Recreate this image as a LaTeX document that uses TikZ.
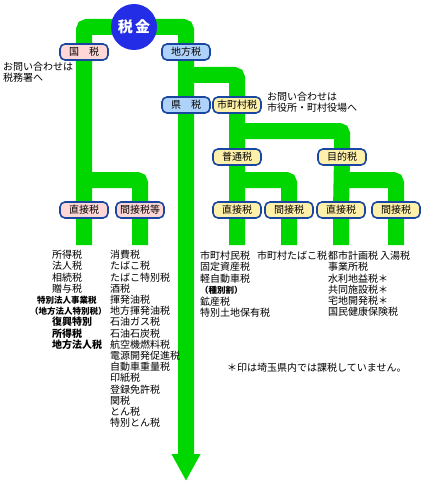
\documentclass[tikz,border=0pt]{standalone}
\usepackage{fontspec}
\setmainfont{Noto Sans CJK JP}
\usetikzlibrary{arrows.meta,backgrounds}
\definecolor{pipegreen}{RGB}{0,215,0}
\definecolor{boxblue}{RGB}{25,70,160}
\definecolor{kokupink}{RGB}{255,215,215}
\definecolor{chihoblue}{RGB}{175,210,250}
\definecolor{shiyellow}{RGB}{255,240,170}
\definecolor{zeikinblue}{RGB}{35,45,230}

\begin{document}
\begin{tikzpicture}[x=1pt,y=-1pt,font=\fontsize{10}{11.2}\selectfont,
  pipe/.style={draw=pipegreen,line width=16pt,rounded corners=3pt},
  taxbox/.style={draw=boxblue,line width=1.6pt,rounded corners=5pt,minimum width=48pt,minimum height=16pt,inner sep=1pt},
  kokubox/.style={taxbox,fill=kokupink},
  chihobox/.style={taxbox,fill=chihoblue},
  shibox/.style={taxbox,fill=shiyellow},
  taxlist/.style={anchor=north west,align=left,inner sep=0pt}]
\useasboundingbox (0,0) rectangle (424,484);

% boxes
\node[circle,fill=zeikinblue,minimum size=46pt,inner sep=0pt,text=white,font=\bfseries\fontsize{15}{15}\selectfont] (zeikin) at (134,27) {税\,金};
\node[kokubox] (kokuzei) at (84,52) {国　税};
\node[chihobox] (chihozei) at (186,52) {地方税};
\node[chihobox] (kenzei) at (186,105) {県　税};
\node[shibox] (shichoson) at (237,105) {市町村税};
\node[shibox] (futsu) at (237,157) {普通税};
\node[shibox] (mokuteki) at (342,157) {目的税};
\node[kokubox] (kchoku) at (84,210) {直接税};
\node[kokubox] (kkan) at (140,210) {間接税等};
\node[shibox] (schoku) at (237,210) {直接税};
\node[shibox] (skan) at (289,210) {間接税};
\node[shibox] (mchoku) at (341,210) {直接税};
\node[shibox] (mkan) at (396,210) {間接税};

\coordinate (kbranch) at (84,180);
\coordinate (cbranch) at (186,75);
\coordinate (sbranch) at (237,131);
\coordinate (fbranch) at (237,180);
\coordinate (mbranch) at (341,180);
\coordinate (kchoku-end) at (84,245);
\coordinate (kkan-end) at (140,245);
\coordinate (schoku-end) at (237,245);
\coordinate (skan-end) at (289,245);
\coordinate (mchoku-end) at (341,245);
\coordinate (mkan-end) at (396,245);
\coordinate (chiho-end) at (186,481);

% pipes
\begin{scope}[on background layer]
\draw[pipe] (zeikin.center) -| (kokuzei.center) -- (kchoku.center) -- (kchoku-end);
\draw[pipe] (kbranch) -| (kkan.center) -- (kkan-end);
\draw[pipe,-{Triangle[width=27pt,length=27pt]}] (zeikin.center) -| (chihozei.center) -- (kenzei.center) -- (chiho-end);
\draw[pipe] (cbranch) -| (shichoson.center) -- (futsu.center) -- (schoku.center) -- (schoku-end);
\draw[pipe] (sbranch) -| (mokuteki.center) -- (mchoku.center) -- (mchoku-end);
\draw[pipe] (fbranch) -| (skan.center) -- (skan-end);
\draw[pipe] (mbranch) -| (mkan.center) -- (mkan-end);
\end{scope}

% notes
\node[taxlist] (kokunote) at (3,62) {お問い合わせは\\税務署へ};
\node[taxlist] (shinote) at (267,92) {お問い合わせは\\市役所・町村役場へ};

% lists
\node[taxlist] (kchoku-list) at (52,250) {所得税\\法人税\\相続税\\贈与税\\
  \hspace*{-15pt}{\fontsize{8.5}{11.2}\selectfont\bfseries 特別法人事業税}\\
  \hspace*{-22pt}{\fontsize{8.5}{11.2}\selectfont\bfseries （地方法人特別税）}\\
  {\bfseries 復興特別}\\{\bfseries 所得税}\\{\bfseries 地方法人税}};
\node[taxlist] (kkan-list) at (110,250) {消費税\\たばこ税\\たばこ特別税\\酒税\\揮発油税\\地方揮発油税\\石油ガス税\\石油石炭税\\航空機燃料税\\電源開発促進税\\自動車重量税\\印紙税\\登録免許税\\関税\\とん税\\特別とん税};
\node[taxlist] (schoku-list) at (200,251) {市町村民税\\固定資産税\\軽自動車税\\
  {\fontsize{8.5}{11.2}\selectfont\bfseries （種別割）}\\[1pt]鉱産税\\特別土地保有税};
\node[taxlist] (skan-list) at (257,251) {市町村たばこ税};
\node[taxlist] (mchoku-list) at (328,251) {都市計画税\\事業所税\\水利地益税＊\\共同施設税＊\\宅地開発税＊\\国民健康保険税};
\node[taxlist] (mkan-list) at (380,251) {入湯税};
\node[anchor=west,inner sep=0pt] (chui) at (227,368) {＊印は埼玉県内では課税していません。};
\end{tikzpicture}
\end{document}
